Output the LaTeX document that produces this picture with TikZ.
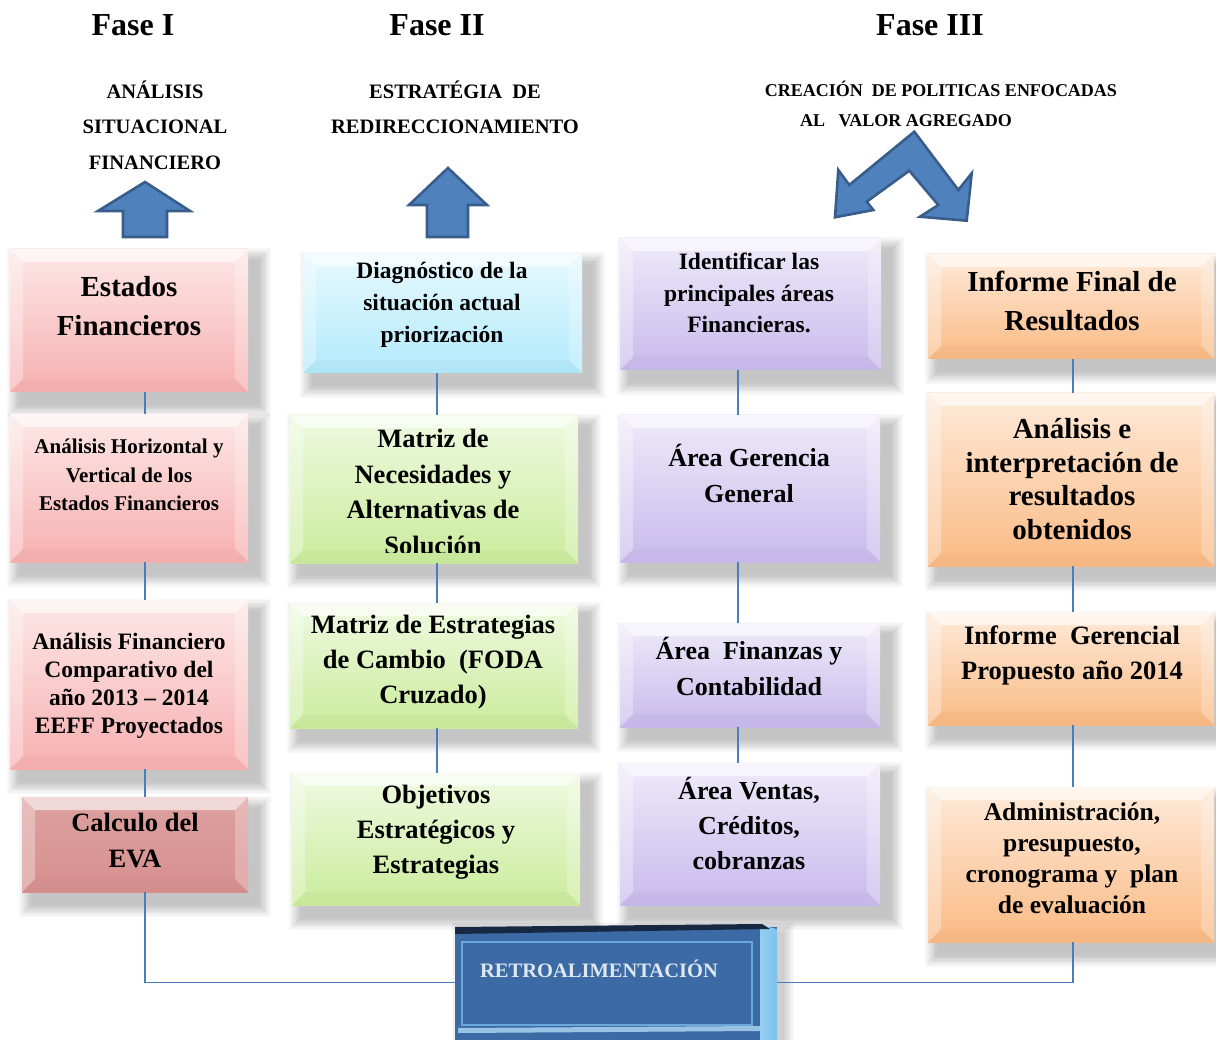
\documentclass[tikz,border=0pt]{standalone}
\usepackage{fontspec}
\setmainfont{Liberation Serif}
\definecolor{pinkM}{RGB}{247,176,176}
\definecolor{roseM}{RGB}{214,144,142}
\definecolor{cyanM}{RGB}{178,234,252}
\definecolor{greenM}{RGB}{202,236,156}
\definecolor{lavM}{RGB}{200,186,236}
\definecolor{peachM}{RGB}{250,186,132}
\definecolor{arrF}{RGB}{79,129,189}
\definecolor{arrD}{RGB}{56,93,138}
\definecolor{lineC}{RGB}{74,126,187}
\definecolor{retroM}{RGB}{60,106,164}
\definecolor{retroD}{RGB}{22,40,66}
\definecolor{retroL}{RGB}{124,194,238}
\definecolor{retroT}{RGB}{222,230,240}

% share of the panel colour at the top of its face
\def\facemix{30}
% bevelled panel with soft drop shadow: name, x1, y1, x2, y2, colour
\newcommand\panel[6]{%
  \foreach \k in {1,...,10}{
    \fill[black,opacity=0.022] ({#2+10-\k*1.3},{#3+12-\k*1.3}) rectangle ({#4+10+\k*1.3},{#5+12+\k*1.3});
  }
  \shade[top color=#6!\facemix!white, bottom color=#6] (#2,#3) rectangle (#4,#5);
  \fill[white,opacity=0.6] (#2,#3) -- (#4,#3) -- ({#4-13},{#3+13}) -- ({#2+13},{#3+13}) -- cycle;
  \fill[white,opacity=0.32] (#2,#3) -- ({#2+13},{#3+13}) -- ({#2+13},{#5-13}) -- (#2,#5) -- cycle;
  \fill[white,opacity=0.25] (#4,#3) -- ({#4-13},{#3+13}) -- ({#4-13},{#5-13}) -- (#4,#5) -- cycle;
  \fill[#6!85!black,opacity=0.12] (#2,#5) -- ({#2+13},{#5-13}) -- ({#4-13},{#5-13}) -- (#4,#5) -- cycle;
  \path ({(#2+#4)/2},{(#3+#5)/2}) node[inner sep=0, minimum width={#4-#2}, minimum height={#5-#3}] (#1) {};
}

\begin{document}
\begin{tikzpicture}[x=1pt,y=-1pt,
  conn/.style={draw=lineC, line width=1.6pt},
  phase/.style={font=\fontsize{32}{36}\selectfont\bfseries, inner sep=0},
  head/.style={font=\fontsize{20.5}{24}\selectfont\bfseries, inner sep=0},
  headsm/.style={font=\fontsize{18}{21}\selectfont\bfseries, inner sep=0},
  btxt/.style={align=center, inner sep=0, text=black},
  arrow shape/.style={fill=arrF, draw=arrD, line width=2.6pt, line join=miter}]
\useasboundingbox (0,0) rectangle (1216,1040);
\fill[white] (0,0) rectangle (1216,1040);

% column axes for the connectors
\coordinate (c1) at (145,0);
\coordinate (c2) at (437,0);
\coordinate (c3) at (738,0);
\coordinate (c4) at (1073,0);

% phase titles
\node[phase] (f1) at (133,25) {Fase I};
\node[phase] (f2) at (437,25) {Fase II};
\node[phase] (f3) at (930,25) {Fase III};

\node[head] (h1a) at (155,90) {ANÁLISIS};
\node[head] (h1b) at (155,127) {SITUACIONAL};
\node[head] (h1c) at (155,163) {FINANCIERO};
\node[head] (h2a) at (455,90) {ESTRATÉGIA\ \ DE};
\node[head] (h2b) at (455,127) {REDIRECCIONAMIENTO};
\node[headsm] (h3a) at (941,89) {CREACIÓN\ \ DE POLITICAS ENFOCADAS};
\node[headsm] (h3b) at (906,121) {AL\ \ \ VALOR AGREGADO};

% block arrows
\draw[arrow shape] (145,182) -- (190,211) -- (167,211) -- (167,237) -- (123,237) -- (123,211) -- (98,211) -- cycle;
\draw[arrow shape] (448,168) -- (487,205) -- (468,205) -- (468,237) -- (427,237) -- (427,205) -- (409,205) -- cycle;
\draw[arrow shape] (914.3,131.7) -- (958.3,190) -- (971.7,173.3) -- (966.7,220.7) -- (920,216.7) -- (938.3,205)
  -- (909.3,170.7) -- (866.7,201.7) -- (873.3,210) -- (835,217.3) -- (838.3,170) -- (849.3,185) -- cycle;

% column 1
\panel{ef}{10}{249}{248}{392}{pinkM}
\panel{ah}{10}{414}{248}{562}{pinkM}
\panel{afc}{10}{600}{248}{769}{pinkM}
\def\facemix{85}
\panel{eva}{22}{797}{248}{892}{roseM}
\def\facemix{30}
% column 2
\panel{dg}{303}{253}{582}{373}{cyanM}
\panel{mn}{290}{415}{578}{563}{greenM}
\panel{me}{290}{603}{578}{728}{greenM}
\panel{ob}{292}{773}{580}{905}{greenM}
% column 3
\panel{id}{620}{238}{881}{370}{lavM}
\panel{gg}{620}{415}{880}{562}{lavM}
\panel{fc}{620}{623}{880}{727}{lavM}
\panel{vc}{620}{763}{880}{905}{lavM}
% column 4
\panel{inf}{928}{254}{1214}{359}{peachM}
\panel{aei}{928}{393}{1214}{566}{peachM}
\panel{ig}{928}{612}{1214}{725}{peachM}
\panel{adm}{928}{787}{1214}{942}{peachM}

% feedback box
\foreach \k in {1,...,8}{
  \fill[black,opacity=0.025] ({463-\k*1.4},{933-\k*1.4}) rectangle ({783+\k*1.4},{1046+\k*1.4});
}
\fill[retroM] (455,927) rectangle (777,1040);
\shade[left color=retroL!80!white, right color=retroL] (760,925) -- (777,929) -- (777,1040) -- (760,1040) -- cycle;
\fill[retroD] (455,927) -- (762,924) -- (770,929) -- (455,934) -- cycle;
\draw[retroL!70!retroM, line width=1.2pt] (462,942) rectangle (752,1025);
\fill[retroL!60!white, opacity=0.8] (458,1028) -- (760,1026) -- (760,1031) -- (458,1033) -- cycle;
\node[inner sep=0, minimum width=322, minimum height=115] (retro) at (616,982.5) {};
\node[btxt, text=retroT, font=\fontsize{20.5}{22}\selectfont\bfseries] (retro-t) at (599,969) {RETROALIMENTACIÓN};

% texts of column 1
\node[btxt, font=\fontsize{29}{39}\selectfont\bfseries] (ef-t) at (129,306) {Estados\\Financieros};
\node[btxt, font=\fontsize{21}{28.5}\selectfont\bfseries] (ah-t) at (129,475) {Análisis Horizontal y\\Vertical de los\\Estados Financieros};
\node[btxt, font=\fontsize{23.5}{28}\selectfont\bfseries] (afc-t) at (129,686) {Análisis Financiero\\Comparativo del\\año 2013 -- 2014\\EEFF Proyectados};
\node[btxt, font=\fontsize{26.5}{36}\selectfont\bfseries] (eva-t) at (135,841) {Calculo del\\EVA};
% texts of column 2
\node[btxt, font=\fontsize{23.5}{32}\selectfont\bfseries] (dg-t) at (442,305) {Diagnóstico de la\\situación actual\\priorización};
\begin{scope}
  \clip (290,415) rectangle (578,552);
  \node[btxt, font=\fontsize{26.5}{35.5}\selectfont\bfseries] (mn-t) at (433,492) {Matriz de\\Necesidades y\\Alternativas de\\Solución};
\end{scope}
\node[btxt, font=\fontsize{26.5}{35}\selectfont\bfseries] (me-t) at (433,662) {Matriz de Estrategias\\de Cambio\ \ (FODA\\Cruzado)};
\node[btxt, font=\fontsize{26.5}{35}\selectfont\bfseries] (ob-t) at (436,832) {Objetivos\\Estratégicos y\\Estrategias};
% texts of column 3
\node[btxt, font=\fontsize{23.5}{31.5}\selectfont\bfseries] (id-t) at (749,293) {Identificar las\\principales áreas\\Financieras.};
\node[btxt, font=\fontsize{26}{36}\selectfont\bfseries] (gg-t) at (749,473) {Área Gerencia\\General};
\node[btxt, font=\fontsize{26}{36}\selectfont\bfseries] (fc-t) at (749,666) {Área\ \ Finanzas y\\Contabilidad};
\node[btxt, font=\fontsize{26}{35}\selectfont\bfseries] (vc-t) at (749,823) {Área Ventas,\\Créditos,\\cobranzas};
% texts of column 4
\node[btxt, font=\fontsize{29}{39}\selectfont\bfseries] (inf-t) at (1072,301) {Informe Final de\\Resultados};
\node[btxt, font=\fontsize{29}{33.7}\selectfont\bfseries] (aei-t) at (1072,479) {Análisis e\\interpretación de\\resultados\\obtenidos};
\node[btxt, font=\fontsize{26.5}{35}\selectfont\bfseries] (ig-t) at (1072,655) {Informe\ \ Gerencial\\Propuesto año 2014};
\node[btxt, font=\fontsize{25.5}{31}\selectfont\bfseries] (adm-t) at (1072,858) {Administración,\\presupuesto,\\cronograma y\ \ plan\\de evaluación};

% connectors
\draw[conn] (c1 |- ef.south) -- (c1 |- ah.north);
\draw[conn] (c1 |- ah.south) -- (c1 |- afc.north);
\draw[conn] (c1 |- afc.south) -- (c1 |- eva.north);
\draw[conn] (c2 |- dg.south) -- (c2 |- mn.north);
\draw[conn] (c2 |- mn.south) -- (c2 |- me.north);
\draw[conn] (c2 |- me.south) -- (c2 |- ob.north);
\draw[conn] (c3 |- id.south) -- (c3 |- gg.north);
\draw[conn] (c3 |- gg.south) -- (c3 |- fc.north);
\draw[conn] (c3 |- fc.south) -- (c3 |- vc.north);
\draw[conn] (c4 |- inf.south) -- (c4 |- aei.north);
\draw[conn] (c4 |- aei.south) -- (c4 |- ig.north);
\draw[conn] (c4 |- ig.south) -- (c4 |- adm.north);
\draw[conn] (c1 |- eva.south) |- (retro.west);
\draw[conn] (c4 |- adm.south) |- (retro.east);
\end{tikzpicture}
\end{document}
